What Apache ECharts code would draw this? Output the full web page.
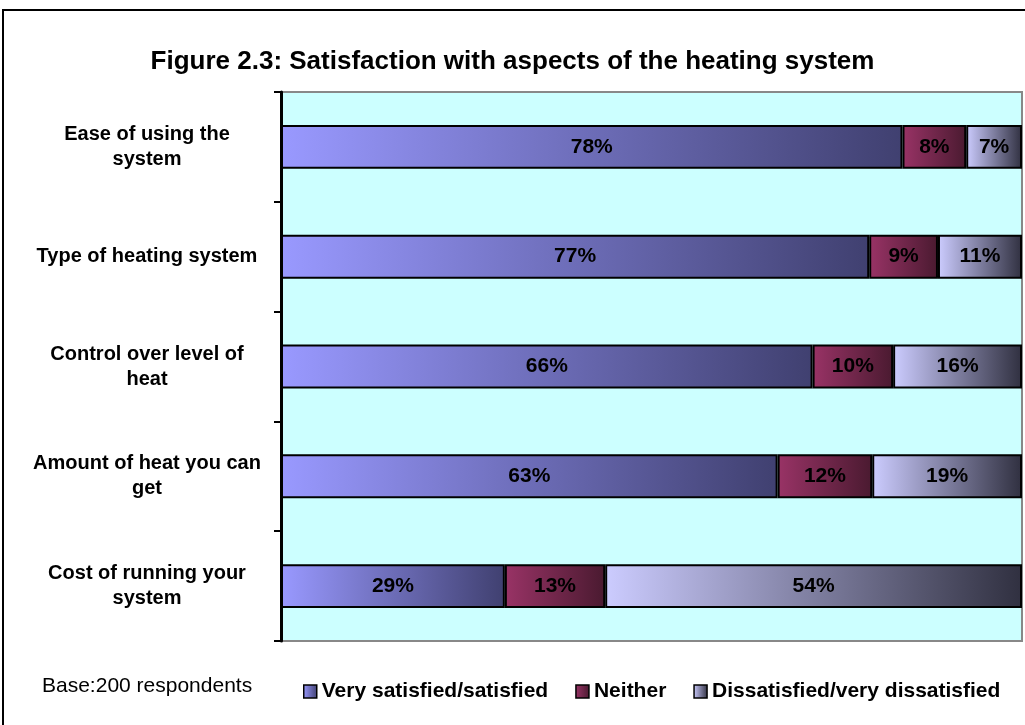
<!DOCTYPE html>
<html>
<head>
<meta charset="utf-8">
<script src="https://cdn.jsdelivr.net/npm/echarts@6/dist/echarts.min.js"></script>
<style>
  html, body { margin: 0; padding: 0; background: #fff; }
  #main { width: 1025px; height: 725px; }
</style>
</head>
<body>
<div id="main"></div>
<script>
// categories, top to bottom
const categories = [
    'Ease of using the\nsystem',
    'Type of heating system',
    'Control over level of\nheat',
    'Amount of heat you can\nget',
    'Cost of running your\nsystem'
];
const seriesNames = ['Very satisfied/satisfied', 'Neither', 'Dissatisfied/very dissatisfied'];

// percentages as printed on the bars
const satisfied = [78, 77, 66, 63, 29];
const neither = [8, 9, 10, 12, 13];
const dissatisfied = [7, 11, 16, 19, 54];

// excel draws this as a 100% stacked bar, so each row is scaled to its own total
const rowTotals = categories.map((c, i) => satisfied[i] + neither[i] + dissatisfied[i]);
const toShare = (arr) => arr.map((v, i) => ({ value: v / rowTotals[i] * 100, raw: v }));

const grad = (from, to) => new echarts.graphic.LinearGradient(0, 0, 1, 0, [
    { offset: 0, color: from },
    { offset: 1, color: to }
]);

const labelStyle = {
    show: true,
    position: 'inside',
    fontFamily: 'Liberation Sans',
    fontWeight: 'bold',
    fontSize: 21,
    color: '#000',
    formatter: (p) => p.data.raw + '%'
};

const makeSeries = (name, arr, from, to) => ({
    name: name,
    type: 'bar',
    stack: 'all',
    barWidth: '40%',
    data: toShare(arr),
    itemStyle: { color: grad(from, to), borderColor: '#000', borderWidth: 2 },
    label: labelStyle,
    emphasis: { disabled: true }
});

const chart = echarts.init(document.getElementById('main'));
chart.setOption({
    animation: false,
    backgroundColor: '#fff',
    title: {
        text: 'Figure 2.3: Satisfaction with aspects of the heating system',
        left: 'center',
        top: 44,
        textStyle: { fontFamily: 'Liberation Sans', fontWeight: 'bold', fontSize: 26, color: '#000' }
    },
    legend: {
        left: 298,
        top: 676,
        itemWidth: 13,
        itemHeight: 13,
        itemGap: 27,
        icon: 'rect',
        itemStyle: { borderColor: '#000', borderWidth: 1.5 },
        textStyle: { fontFamily: 'Liberation Sans', fontWeight: 'bold', fontSize: 21, color: '#000' },
        data: seriesNames
    },
    grid: {
        left: 281,
        right: 3,
        top: 92,
        bottom: 84,
        show: true,
        backgroundColor: '#CCFFFF',
        borderColor: '#888',
        borderWidth: 2
    },
    xAxis: {
        type: 'value',
        min: 0,
        max: 100,
        show: false
    },
    yAxis: {
        type: 'category',
        inverse: true,
        data: categories,
        z: 10,
        axisLine: { lineStyle: { color: '#000', width: 3 } },
        axisTick: { show: true, interval: 0, alignWithLabel: false, length: 7, lineStyle: { color: '#000', width: 2 } },
        axisLabel: {
            // labels are centred in the column left of the axis
            margin: 134,
            align: 'center',
            fontFamily: 'Liberation Sans',
            fontWeight: 'bold',
            fontSize: 20,
            lineHeight: 25,
            color: '#000'
        },
        splitLine: { show: false }
    },
    series: [
        makeSeries(seriesNames[0], satisfied, '#9999FF', '#404070'),
        makeSeries(seriesNames[1], neither, '#993366', '#4A1A30'),
        makeSeries(seriesNames[2], dissatisfied, '#CCCCFF', '#303040')
    ],
    graphic: [
        {
            type: 'rect',
            shape: { x: 3, y: 10, width: 1040, height: 740 },
            style: { fill: null, stroke: '#000', lineWidth: 2 },
            silent: true
        },
        {
            type: 'text',
            left: 42,
            top: 676,
            style: { text: 'Base:200 respondents', fontFamily: 'Liberation Sans', fontSize: 21, fill: '#000' },
            silent: true
        }
    ]
});
</script>
</body>
</html>
